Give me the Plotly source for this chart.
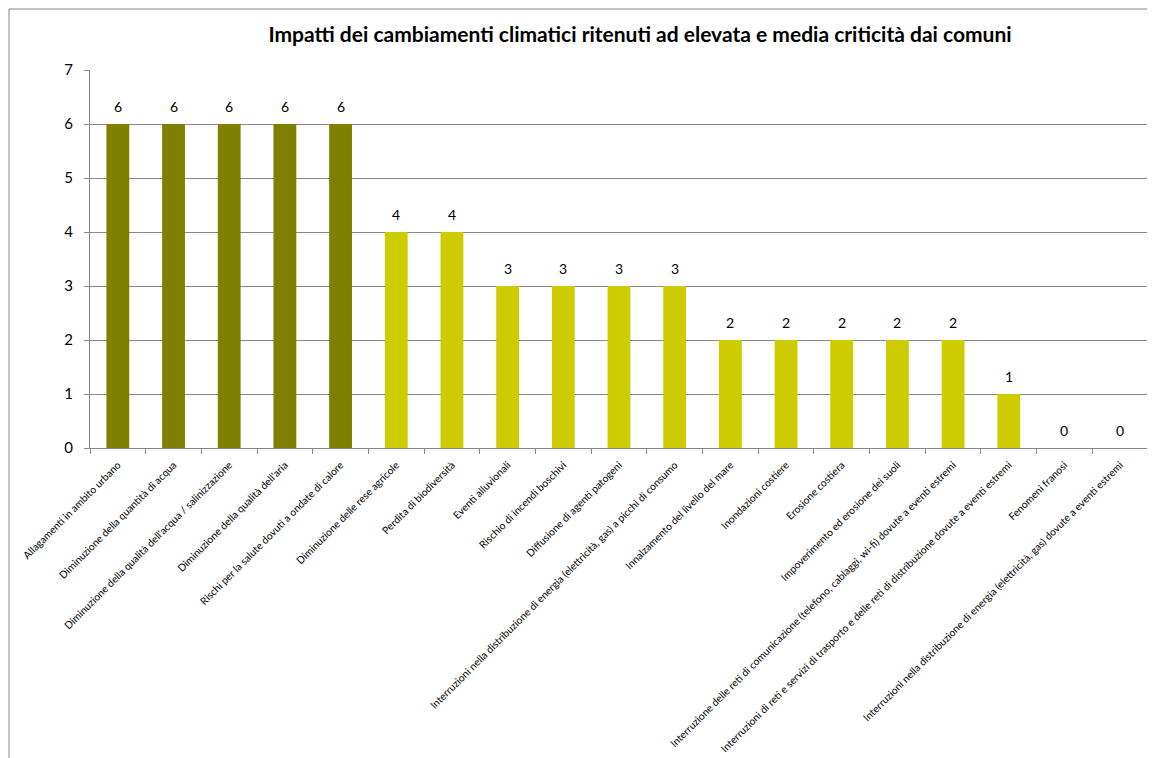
import plotly.graph_objects as go

categories = [
    "Allagamenti in ambito urbano",
    "Diminuzione della quantità di acqua",
    "Diminuzione della qualità dell'acqua / salinizzazione",
    "Diminuzione della qualità dell'aria",
    "Rischi per la salute dovuti a ondate di calore",
    "Diminuzione delle rese agricole",
    "Perdita di biodiversità",
    "Eventi alluvionali",
    "Rischio di incendi boschivi",
    "Diffusione di agenti patogeni",
    "Interruzioni nella distribuzione di energia (elettricità, gas) a picchi di consumo",
    "Innalzamento del livello del mare",
    "Inondazioni costiere",
    "Erosione costiera",
    "Impoverimento ed erosione dei suoli",
    "Interruzione delle reti di comunicazione (telefono, cablaggi, wi-fi) dovute a eventi estremi",
    "Interruzioni di reti e servizi di trasporto e delle reti di distribuzione dovute a eventi estremi",
    "Fenomeni franosi",
    "Interruzioni nella distribuzione di energia (elettricità, gas) dovute a eventi estremi",
]
values = [6, 6, 6, 6, 6, 4, 4, 3, 3, 3, 3, 2, 2, 2, 2, 2, 1, 0, 0]
high_count = 5
colors = ["#808000"] * high_count + ["#CCCC00"] * (len(values) - high_count)

FONT = "Lato, Open Sans, sans-serif"

fig = go.Figure()
fig.add_trace(go.Bar(
    x=categories, y=values,
    marker=dict(color=colors, line=dict(width=0)),
    cliponaxis=False,
))
for c, v in zip(categories, values):
    fig.add_annotation(
        x=c, y=v, text=str(v), showarrow=False,
        xanchor="center", yanchor="bottom", yshift=7,
        font=dict(family=FONT, size=14, color="#000000"),
    )

W, H = 1147, 750
L, R, T, B = 82, 7, 62, 310
pw, ph = W - L - R, H - T - B

fig.update_layout(
    width=W, height=H,
    margin=dict(l=L, r=R, t=T, b=B, autoexpand=False),
    paper_bgcolor="white", plot_bgcolor="white",
    bargap=0.59,
    showlegend=False,
    title=dict(
        text="<b>Impatti dei cambiamenti climatici ritenuti ad elevata e media criticità dai comuni</b>",
        x=632 / W, xanchor="center", y=1 - 27 / H, yanchor="middle",
        font=dict(family=FONT, size=21, color="#000000"),
    ),
    font=dict(family=FONT, color="#000000"),
    shapes=[dict(
        type="rect", xref="paper", yref="paper",
        x0=(1 - L) / pw, x1=1.2, y0=-1.5, y1=1 + (T - 1) / ph,
        line=dict(color="#878787", width=1), fillcolor="rgba(0,0,0,0)", layer="below",
    )],
)
fig.update_xaxes(
    type="category", tickangle=-45, automargin=False,
    tickfont=dict(family=FONT, size=10.3, color="#000000"),
    showline=True, linecolor="#878787", linewidth=1,
    ticks="outside", tickson="boundaries", ticklen=5, tickcolor="#878787",
    ticklabelstandoff=6,
    showgrid=False,
)
fig.update_yaxes(
    range=[0, 7], dtick=1, tick0=0, automargin=False,
    tickfont=dict(family=FONT, size=15, color="#000000"),
    showline=True, linecolor="#878787", linewidth=1,
    ticks="outside", ticklen=5, tickcolor="#878787",
    ticklabelstandoff=8,
    showgrid=True, gridcolor="#878787", gridwidth=1,
    zeroline=False,
)

fig.write_html("out.html")
